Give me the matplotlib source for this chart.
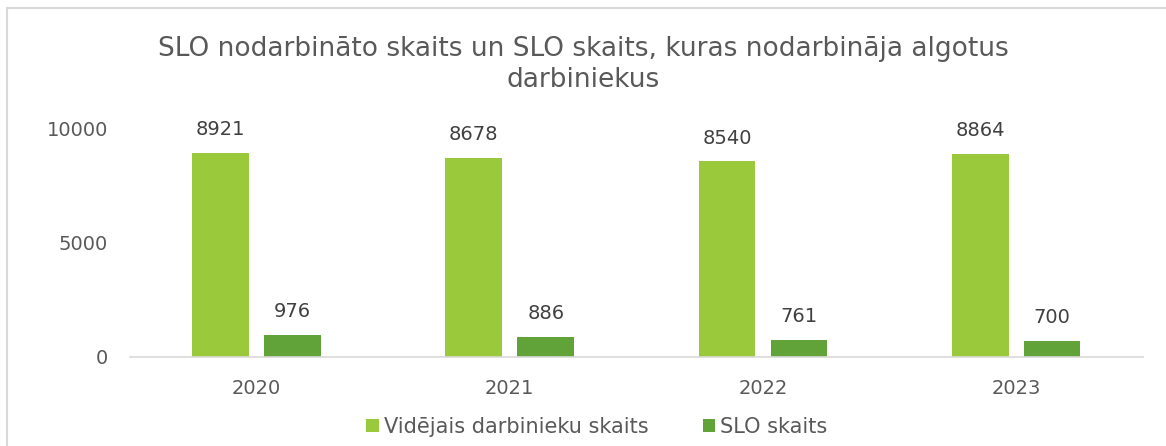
import matplotlib.pyplot as plt
import numpy as np
from matplotlib.lines import Line2D

years = ['2020', '2021', '2022', '2023']
employees = [8921, 8678, 8540, 8864]
slo_counts = [976, 886, 761, 700]
series_names = ['Vidējais darbinieku skaits', 'SLO skaits']

text_color = '#595959'
light_green = '#9ACA3C'
dark_green = '#62A339'

plt.rcParams['font.family'] = ['DejaVu Sans']

fig = plt.figure(figsize=(11.66, 4.46), dpi=100)
ax = fig.add_axes([0.1115, 0.1996, 0.8685, 0.5134])

x = np.arange(len(years))
w = 0.224
off = 0.142
b1 = ax.bar(x - off, employees, w, color=light_green, label=series_names[0])
b2 = ax.bar(x + off, slo_counts, w, color=dark_green, label=series_names[1])

for bars in (b1, b2):
    for rect in bars:
        ax.annotate(f'{int(rect.get_height())}',
                    (rect.get_x() + rect.get_width() / 2, rect.get_height()),
                    xytext=(0, 10), textcoords='offset points',
                    ha='center', va='bottom', fontsize=14, color='#404040',
                    annotation_clip=False)

ax.set_xlim(-0.5, 3.5)
ax.set_ylim(0, 10000)
ax.set_yticks([0, 5000, 10000])
ax.set_xticks(x)
ax.set_xticklabels(years)
ax.tick_params(axis='both', length=0, labelsize=14, colors=text_color)
ax.tick_params(axis='y', pad=16)
ax.tick_params(axis='x', pad=16)
for s in ['top', 'right', 'left']:
    ax.spines[s].set_visible(False)
ax.spines['bottom'].set_color('#d9d9d9')
ax.spines['bottom'].set_linewidth(1.2)

fig.text(0.5, 0.855, 'SLO nodarbināto skaits un SLO skaits, kuras nodarbināja algotus\ndarbiniekus',
         ha='center', va='center', fontsize=19, color=text_color, linespacing=1.28)

fig.legend(loc='center', bbox_to_anchor=(0.512, 0.043), ncol=2, frameon=False,
           fontsize=15, labelcolor=text_color, handlelength=0.6, handleheight=0.6,
           handletextpad=0.25, columnspacing=2.6)

# chart frame
fig.add_artist(Line2D([7 / 1166, 1], [1 - 8 / 446, 1 - 8 / 446], color='#d9d9d9', lw=1.5))
fig.add_artist(Line2D([7 / 1166, 7 / 1166], [0, 1 - 8 / 446], color='#d9d9d9', lw=1.5))

fig.savefig('out.png', dpi=100)
